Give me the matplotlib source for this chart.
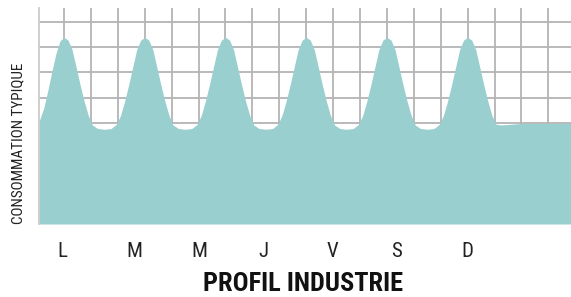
import matplotlib
matplotlib.use("Agg")
import matplotlib.pyplot as plt
from matplotlib import font_manager

# ---- data (x in grid units, y in grid units) ----
days = ["L", "M", "M", "J", "V", "S", "D"]
day_pos = [0.94, 3.60, 6.03, 8.39, 10.97, 13.34, 15.97]

x_vals = [0.07, 0.1, 0.25, 0.4, 0.55, 0.7, 0.85, 1.0, 1.15, 1.3, 1.45, 1.6, 1.75, 1.9, 2.05, 2.25, 2.5,
          2.75, 2.95, 3.1, 3.25, 3.4, 3.55, 3.7, 3.85, 4.0, 4.15, 4.3, 4.45, 4.6, 4.75, 4.9, 5.05, 5.25, 5.5,
          5.75, 5.95, 6.1, 6.25, 6.4, 6.55, 6.7, 6.85, 7.0, 7.15, 7.3, 7.45, 7.6, 7.75, 7.9, 8.05, 8.25, 8.5,
          8.75, 8.95, 9.1, 9.25, 9.4, 9.55, 9.7, 9.85, 10.0, 10.15, 10.3, 10.45, 10.6, 10.75, 10.9, 11.05, 11.25, 11.5,
          11.75, 11.95, 12.1, 12.25, 12.4, 12.55, 12.7, 12.85, 13.0, 13.15, 13.3, 13.45, 13.6, 13.75, 13.9, 14.05, 14.25, 14.5,
          14.75, 14.95, 15.1, 15.25, 15.4, 15.55, 15.7, 15.85, 16.0, 16.15, 16.3, 16.45, 16.6, 16.75, 16.9, 17.05, 17.25, 17.5,
          18.0, 19.0, 19.9]
y_vals = [4.05, 4.15, 4.6, 5.3, 6.05, 6.75, 7.25, 7.39, 7.28, 6.9, 6.2, 5.5, 4.85, 4.3, 3.92, 3.78, 3.75,
          3.78, 3.95, 4.3, 4.85, 5.5, 6.2, 6.9, 7.28, 7.39, 7.28, 6.9, 6.2, 5.5, 4.85, 4.3, 3.92, 3.78, 3.75,
          3.78, 3.95, 4.3, 4.85, 5.5, 6.2, 6.9, 7.28, 7.39, 7.28, 6.9, 6.2, 5.5, 4.85, 4.3, 3.92, 3.78, 3.75,
          3.78, 3.95, 4.3, 4.85, 5.5, 6.2, 6.9, 7.28, 7.39, 7.28, 6.9, 6.2, 5.5, 4.85, 4.3, 3.92, 3.78, 3.75,
          3.78, 3.95, 4.3, 4.85, 5.5, 6.2, 6.9, 7.28, 7.39, 7.28, 6.9, 6.2, 5.5, 4.85, 4.3, 3.92, 3.78, 3.75,
          3.78, 3.95, 4.3, 4.85, 5.5, 6.2, 6.9, 7.28, 7.39, 7.28, 6.9, 6.2, 5.5, 4.85, 4.3, 3.95, 3.92, 3.94,
          3.98, 3.98, 3.98]

title = "PROFIL INDUSTRIE"
ylabel = "CONSOMMATION TYPIQUE"

# ---- fonts: prefer a condensed face ----
fonts = font_manager.fontManager.ttflist
narrow_family, narrow_stretch = "DejaVu Sans", "condensed"
for cand in ["Roboto Condensed", "Open Sans Condensed", "Liberation Sans Narrow", "Noto Sans Condensed"]:
    if any(f.name == cand for f in fonts):
        narrow_family, narrow_stretch = cand, "normal"
        break
else:
    for f in fonts:
        if f.name in ("Roboto", "Open Sans", "Noto Sans", "DejaVu Sans") and f.stretch not in ("normal", 500):
            narrow_family, narrow_stretch = f.name, f.stretch
            break

W, H = 571, 297
fig = plt.figure(figsize=(W / 100, H / 100), dpi=100)
ax = fig.add_axes([39 / W, 1 - 224 / H, 1 - 39 / W, (224 - 8) / H])

ax.fill_between(x_vals, 0, y_vals, color="#9acfd0", linewidth=0, zorder=2)
ax.set_xlim(0.07, 19.84)
ax.set_ylim(0, 8.55)

ax.set_xticks(range(1, 20), minor=True)
ax.set_yticks(range(1, 9), minor=True)
ax.grid(which="minor", color="#b4b4b4", linewidth=1.3, zorder=0)
ax.set_axisbelow(True)

ax.set_xticks(day_pos)
ax.set_xticklabels(days, fontfamily=narrow_family, fontstretch=narrow_stretch,
                   fontsize=15, color="#222222")
ax.set_yticks([])
ax.tick_params(axis="x", which="both", length=0, pad=13)
ax.tick_params(axis="y", which="both", length=0)

for s in ["top", "right", "bottom"]:
    ax.spines[s].set_visible(False)
ax.spines["left"].set_color("#cccccc")
ax.spines["left"].set_linewidth(1.3)

fig.text(18 / W, 1 - 143.5 / H, ylabel, rotation=90, ha="center", va="center",
         fontfamily=narrow_family, fontstretch=narrow_stretch, fontsize=10.9, color="#222222")
fig.text(303 / W, 1 - 284 / H, title, ha="center", va="center",
         fontfamily=narrow_family, fontstretch=narrow_stretch, fontweight="semibold",
         fontsize=19, color="#111111")

fig.savefig("out.png", dpi=100)
